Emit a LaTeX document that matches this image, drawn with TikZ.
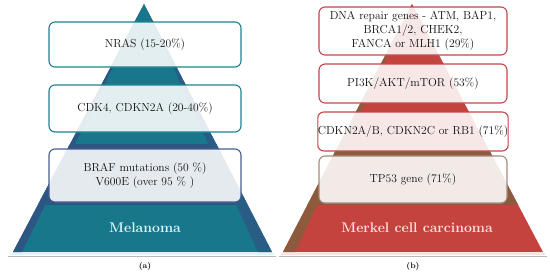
\documentclass[tikz,border=0pt]{standalone}
\definecolor{tealA}{HTML}{17788B}
\definecolor{navyA}{HTML}{2D5683}
\definecolor{tealB}{HTML}{1B8290}
\definecolor{redA}{HTML}{C4433F}
\definecolor{brownA}{HTML}{8E5A3E}
\definecolor{redB}{HTML}{C2474A}
\definecolor{boxNavy}{HTML}{4A5C8C}
\definecolor{boxBrown}{HTML}{A68A7C}
\definecolor{txt}{HTML}{111111}
\definecolor{lightCyan}{HTML}{DFF6F6}
\definecolor{lightPink}{HTML}{FCE2E0}
\begin{document}
\begin{tikzpicture}[x=1pt,y=-1pt,
  lvl/.style={draw, line width=1.1pt, rounded corners=6pt, fill=white, fill opacity=0.88,
    text opacity=1, text=txt, align=center, inner sep=0pt,
    font=\fontsize{11.6}{14}\selectfont},
  lbox/.style={lvl, minimum width=192pt},
  rbox/.style={lvl, minimum width=188pt},
  basetxt/.style={font=\bfseries\fontsize{14}{16}\selectfont},
  captxt/.style={font=\bfseries\fontsize{8}{10}\selectfont, text=txt}]
\useasboundingbox (0,0) rectangle (550,273);

% ---------- left pyramid ----------
\fill[tealA] (144,4) -- (13,252) -- (272,252) -- cycle;
\begin{scope}
  \clip (144,4) -- (13,252) -- (272,252) -- cycle;
  \fill[navyA] (0,144) rectangle (275,205);
\end{scope}
\fill[navyA] (144,4) -- (13,252) -- (22,252) -- cycle;
\fill[navyA!80!tealA] (144,4) -- (272,252) -- (258,252) -- cycle;
\draw[lightCyan, line width=1.5pt] (10,254) -- (274,254);
\draw[gray!55, line width=1.2pt] (8,256.5) -- (276,256.5);

% ---------- right pyramid ----------
\fill[redA] (412,4) -- (283,252) -- (543,252) -- cycle;
\begin{scope}
  \clip (412,4) -- (283,252) -- (543,252) -- cycle;
  \fill[brownA] (278,151) rectangle (550,205);
\end{scope}
\fill[brownA] (412,4) -- (283,252) -- (295,252) -- cycle;
\draw[lightPink, line width=1.5pt] (281,254) -- (545,254);
\draw[gray!55, line width=1.2pt] (279,256.5) -- (547,256.5);

% ---------- left boxes ----------
\node[lbox, draw=tealB, minimum height=45pt] (l1) at (145,44.5) {NRAS (15-20\%)};
\node[lbox, draw=tealB, minimum height=47pt] (l2) at (145,108.5) {CDK4, CDKN2A (20-40\%)};
\node[lbox, draw=boxNavy, minimum height=53pt] (l3) at (145,175.5) {BRAF mutations (50 \%)\\V600E (over 95 \% )};
\node[basetxt, text=lightCyan] (lb) at (145,228) {Melanoma};
\node[captxt] (la) at (145,266) {(a)};

% ---------- right boxes ----------
\node[rbox, draw=redB, minimum height=48pt] (r1) at (413,31) {DNA repair genes - ATM, BAP1,\\BRCA1/2, CHEK2,\\FANCA or MLH1 (29\%)};
\node[rbox, draw=redB, minimum height=39pt] (r2) at (413,83.5) {PI3K/AKT/mTOR (53\%)};
\node[rbox, draw=redB, minimum height=39pt] (r3) at (413,131.5) {CDKN2A/B, CDKN2C or RB1 (71\%)};
\node[rbox, draw=boxBrown, minimum height=47pt] (r4) at (413,179.5) {TP53 gene (71\%)};
\node[basetxt, text=lightPink] (rb) at (417,228) {Merkel cell carcinoma};
\node[captxt] (ra) at (413,266) {(b)};
\end{tikzpicture}
\end{document}
